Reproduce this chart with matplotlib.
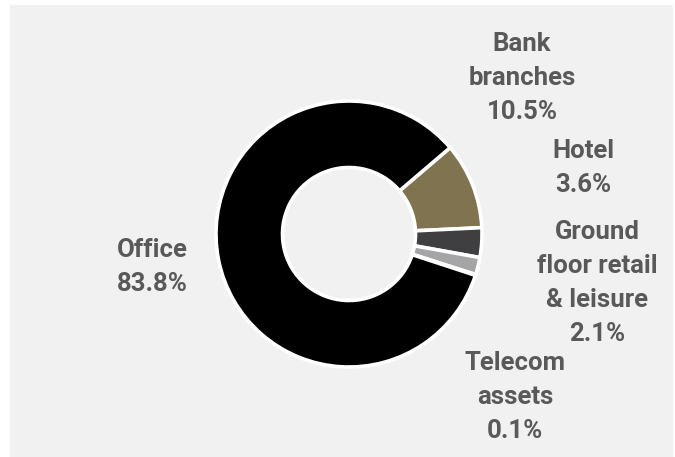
import matplotlib
matplotlib.use('Agg')
import matplotlib.pyplot as plt
from matplotlib.patches import Rectangle

plt.rcParams['font.family'] = ['Roboto', 'DejaVu Sans']

# portfolio split by asset type
segments = ['Bank branches', 'Hotel', 'Ground floor retail & leisure', 'Telecom assets', 'Office']
shares = [10.5, 3.6, 2.1, 0.1, 83.8]
colors = ['#807350', '#3f3f41', '#a5a5a8', '#d0d0d0', '#000000']

# label text for each segment
label_text = {
    'Bank branches': 'Bank\nbranches',
    'Hotel': 'Hotel',
    'Ground floor retail & leisure': 'Ground\nfloor retail\n& leisure',
    'Telecom assets': 'Telecom\nassets',
    'Office': 'Office',
}
# label centres in pixels (x, y from top)
label_pos = {
    'Bank branches': (522, 78),
    'Hotel': (583, 168),
    'Ground floor retail & leisure': (597, 283),
    'Telecom assets': (515, 397),
    'Office': (152, 267),
}

W, H = 675, 457
fig = plt.figure(figsize=(W / 100, H / 100), dpi=100)
fig.patch.set_facecolor('white')
fig.patches.append(Rectangle((10 / W, 0), (673 - 10) / W, (H - 5) / H,
                             transform=fig.transFigure, facecolor='#f1f1f1',
                             edgecolor='none', zorder=-1))

# donut centre and outer radius in pixels
cx, cy, r = 349, 234, 133
pad = 1.04
half = r * pad
ax = fig.add_axes([(cx - half) / W, (H - cy - half) / H, 2 * half / W, 2 * half / H])
ax.set_zorder(2)
ax.set_facecolor('none')
ax.pie(shares, colors=colors, startangle=40.5, counterclock=False, radius=1,
       wedgeprops=dict(width=0.5, edgecolor='white', linewidth=2.6))
ax.set_xlim(-pad, pad)
ax.set_ylim(-pad, pad)
ax.set_aspect('equal')
ax.axis('off')

for seg, val in zip(segments, shares):
    x, y = label_pos[seg]
    fig.text(x / W, 1 - y / H, f'{label_text[seg]}\n{val}%', ha='center', va='center',
             fontsize=18.5, fontweight='bold', color='#595959', linespacing=1.52,
             zorder=3)

fig.savefig('out.png', dpi=100)
